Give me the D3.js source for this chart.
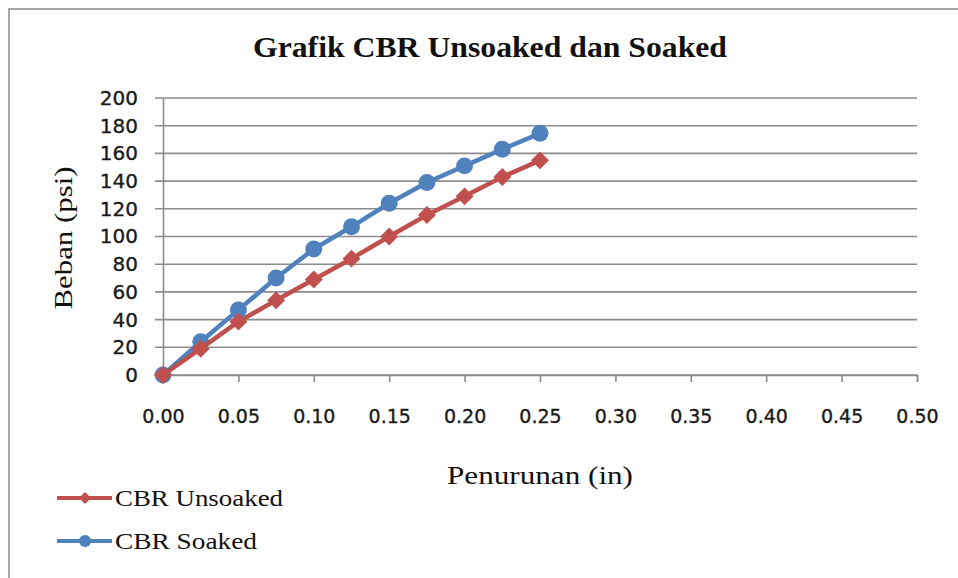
<!DOCTYPE html>
<html>
<head>
<meta charset="utf-8">
<script src="https://cdn.jsdelivr.net/npm/d3@7"></script>
<style>
  body { margin: 0; background: #fff; }
  .serif { font-family: "Liberation Serif", "DejaVu Serif", serif; fill: #111; }
  .tick text { font-family: "DejaVu Sans", sans-serif; fill: #1a1a1a; stroke: #1a1a1a; stroke-width: 0.35px; }
</style>
</head>
<body>
<div class="cbr-chart"></div>
<script>
// data
const penurunan = [0, 0.025, 0.05, 0.075, 0.1, 0.125, 0.15, 0.175, 0.2, 0.225, 0.25];
const unsoaked = [0, 19, 38.5, 54, 69, 84, 100, 115.5, 129, 143, 155];
const soaked = [0, 24, 47, 70, 91, 107, 124, 139, 151, 163, 174.5];
const xTicks = [0, 0.05, 0.1, 0.15, 0.2, 0.25, 0.3, 0.35, 0.4, 0.45, 0.5];
const yTicks = [0, 20, 40, 60, 80, 100, 120, 140, 160, 180, 200];

const width = 958;
const height = 578;
const svg = d3.select(".cbr-chart")
    .append("svg")
    .attr("width", width)
    .attr("height", height);

// chart frame
svg.append("rect")
    .attr("x", 9).attr("y", 9)
    .attr("width", 1000).attr("height", 1000)
    .attr("fill", "none")
    .attr("stroke", "#8a8a8a")
    .attr("stroke-width", 1.5);

const x = d3.scaleLinear().domain([0, 0.5]).range([163, 917]);
const y = d3.scaleLinear().domain([0, 200]).range([375, 98]);

// gridlines
svg.selectAll(".grid")
    .data(yTicks)
    .enter()
    .append("line")
    .attr("class", "grid")
    .attr("x1", x(0) - 8)
    .attr("x2", x(0.5))
    .attr("y1", d => y(d))
    .attr("y2", d => y(d))
    .attr("stroke", "#8c8c8c")
    .attr("stroke-width", 1.6);

// axes
const yAxis = svg.append("g")
    .attr("transform", `translate(${x(0)},0)`)
    .call(d3.axisLeft(y).tickValues(yTicks).tickSize(0).tickPadding(25).tickFormat(d3.format("d")));
yAxis.selectAll("text").style("font-size", "20px");
yAxis.select(".domain").attr("stroke", "#8c8c8c").attr("stroke-width", 1.6);

const xAxis = svg.append("g")
    .attr("transform", `translate(0,${y(0)})`)
    .call(d3.axisBottom(x).tickValues(xTicks).tickSize(7).tickPadding(28).tickFormat(d3.format(".2f")));
xAxis.selectAll("text").style("font-size", "19px");
xAxis.selectAll("line").attr("stroke", "#8c8c8c").attr("stroke-width", 1.6);
xAxis.select(".domain").attr("stroke", "#8c8c8c").attr("stroke-width", 1.6);

// series: diamond = square turned 45 degrees
const series = [
    {name: "CBR Unsoaked", values: unsoaked, color: "#C0504D", shape: d3.symbolSquare, rot: 45, size: 160, legendSize: 75},
    {name: "CBR Soaked", values: soaked, color: "#4F81BD", shape: d3.symbolCircle, rot: 0, size: 225, legendSize: 115}
];
const line = d3.line().x((d, i) => x(penurunan[i])).y(d => y(d));

// draw soaked first so unsoaked sits on top like the picture
series.slice().reverse().forEach(s => {
    svg.append("path")
        .datum(s.values)
        .attr("fill", "none")
        .attr("stroke", s.color)
        .attr("stroke-width", 4.5)
        .attr("stroke-linejoin", "round")
        .attr("d", line);
    svg.selectAll(".m-" + s.name.replace(" ", ""))
        .data(s.values)
        .enter()
        .append("path")
        .attr("d", d3.symbol().type(s.shape).size(s.size))
        .attr("transform", (d, i) => `translate(${x(penurunan[i])},${y(d)}) rotate(${s.rot})`)
        .attr("fill", s.color);
});

// titles
svg.append("text")
    .attr("class", "serif")
    .attr("x", 490).attr("y", 57)
    .attr("text-anchor", "middle")
    .attr("font-weight", "bold")
    .attr("font-size", 29)
    .attr("textLength", 474)
    .attr("lengthAdjust", "spacingAndGlyphs")
    .text("Grafik CBR Unsoaked dan Soaked");

svg.append("text")
    .attr("class", "serif")
    .attr("transform", "translate(72,238) rotate(-90)")
    .attr("text-anchor", "middle")
    .attr("font-size", 25)
    .attr("textLength", 143)
    .attr("lengthAdjust", "spacingAndGlyphs")
    .text("Beban (psi)");

svg.append("text")
    .attr("class", "serif")
    .attr("x", 540).attr("y", 484)
    .attr("text-anchor", "middle")
    .attr("font-size", 25)
    .attr("textLength", 186)
    .attr("lengthAdjust", "spacingAndGlyphs")
    .text("Penurunan (in)");

// legend
const legend = svg.selectAll(".legend")
    .data(series)
    .enter()
    .append("g")
    .attr("class", "legend")
    .attr("transform", (d, i) => `translate(0,${498 + i * 43})`);
legend.append("line")
    .attr("x1", 57).attr("x2", 112)
    .attr("stroke", d => d.color)
    .attr("stroke-width", 4);
legend.append("path")
    .attr("d", d => d3.symbol().type(d.shape).size(d.legendSize)())
    .attr("transform", d => `translate(85,0) rotate(${d.rot})`)
    .attr("fill", d => d.color);
legend.append("text")
    .attr("class", "serif")
    .attr("x", 115).attr("y", 8)
    .attr("font-size", 23)
    .attr("textLength", d => d.name === "CBR Unsoaked" ? 168 : 142)
    .attr("lengthAdjust", "spacingAndGlyphs")
    .text(d => d.name);
</script>
</body>
</html>
